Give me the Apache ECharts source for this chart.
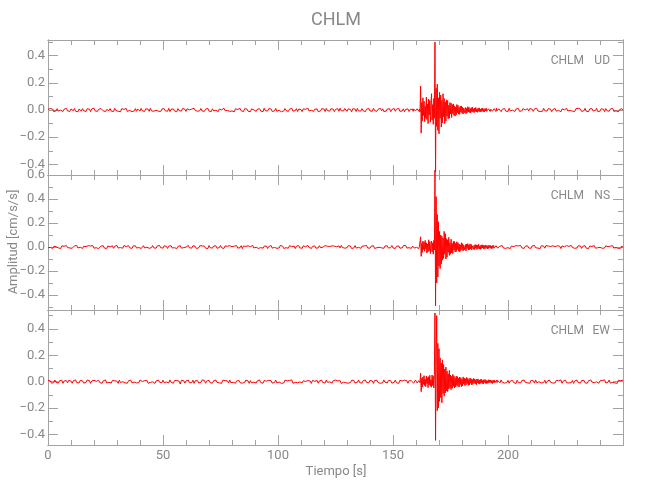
<!DOCTYPE html>
<html><head><meta charset="utf-8">
<script src="https://cdn.jsdelivr.net/npm/echarts@6/dist/echarts.min.js"></script>
<style>html,body{margin:0;padding:0;background:#fff}#c{width:650px;height:500px}</style>
</head><body><div id="c"></div>
<script>
const stationName = 'CHLM';
const componentNames = ['UD', 'NS', 'EW'];
const chartTitle = 'CHLM';
const xAxisName = 'Tiempo [s]';
const yAxisName = 'Amplitud [cm/s/s]';
const xRange = [0, 250];
const xTickLabels = [0, 50, 100, 150, 200];
const xMinorTicks = [10,20,30,40,60,70,80,90,110,120,130,140,160,170,180,190,210,220,230,240];
const yRanges = [[-0.478, 0.515], [-0.525, 0.6], [-0.48, 0.543]];
const yTickLabels = [[-0.4,-0.2,0,0.2,0.4], [-0.4,-0.2,0,0.2,0.4,0.6], [-0.4,-0.2,0,0.2,0.4]];
const yMinorTicks = [[-0.3,-0.1,0.1,0.3,0.5], [-0.5,-0.3,-0.1,0.1,0.3,0.5], [-0.3,-0.1,0.1,0.3,0.5]];

// sample times of each record segment: start (s) and sample spacing (s)
const preStart = 0, preStep = 0.5;
const eventStart = 158.5, eventStep = 0.25;
const postStart = 196.5, postStep = 0.5;

// amplitudes, in 0.001 cm/s/s
const udPre = [
4,-9,11,-3,7,-12,2,-6,10,-8,5,-1,9,-11,6,-4,12,-7,3,-10,
8,-2,-5,11,-9,4,-13,7,1,-8,10,-6,3,-11,9,-4,6,-12,8,-3,
13,-7,2,-10,5,-9,11,-1,-6,8,-12,4,7,-5,10,-8,1,-11,12,-4,
6,-9,3,-13,9,-2,5,-7,11,-10,4,-3,8,-12,2,-6,10,-9,7,-1,
-8,12,-5,3,-11,9,-4,6,-10,13,-7,1,-9,5,-2,11,-8,4,-12,7,
-3,10,-6,2,-9,12,-11,5,-1,8,-7,4,-13,10,-5,3,-8,11,-2,6,
-10,9,-4,1,-12,7,-6,13,-3,8,-9,2,-5,11,-7,4,-10,6,-1,12,
-8,3,-11,9,-6,5,-2,10,-12,7,-4,1,-9,13,-5,8,-3,11,-10,2,
-7,6,-13,9,-1,4,-8,12,-6,3,-11,10,-2,7,-9,5,-12,8,-4,1,
11,-10,6,-3,9,-7,2,-12,13,-5,4,-8,10,-1,7,-11,3,-6,12,-9,
5,-2,8,-13,1,-7,11,-4,9,-10,6,-3,12,-8,2,-5,10,-11,7,-6,
3,-12,9,-1,5,-9,13,-7,4,-2,11,-10,6,-4,8,-13,1,-6,10,-3,
7,-11,12,-5,2,-8,9,-3,6,-12,4,-1,10,-9,13,-6,3,-7,11,-2,
-10,8,-4,5,-13,9,-1,7,-11,12,-6,2,-8,10,-5,3,-12,6,-3,11,
-7,1,-9,13,-4,8,-10,5,-2,12,-6,9,-11,3,-8,7,-1,10,-12,4,
-5,11,-9,6,-3,12,-10,2,-7,9,-13,5,-1,8,-11,4,-6];
const udEvent = [
6,-10,8,-4,11,-7,3,-12,9,-5,13,-9,7,-15,175,-170,55,-80,90,-40,
65,-85,30,-60,95,-70,45,-100,80,-35,70,-90,50,120,-75,40,-105,85,-60,500,
-455,160,-120,190,-150,90,-175,130,-60,110,-125,70,-95,120,-50,85,-100,60,-80,75,
-45,70,-65,35,-60,55,-30,50,-55,40,-25,45,-40,30,-45,22,-35,40,-20,35,
-30,18,-32,28,-15,30,-25,20,-28,14,26,-22,18,-27,12,-20,24,-14,21,-18,
10,-22,17,-12,20,-16,9,-19,15,-11,18,-14,7,-17,13,-9,16,-13,6,-15,
12,-8,15,-12,5,-14,11,-6,13,-10,4,-13,9,-5,12,-11,7,-3,12,-9,
5,-12,10,-4,8,-11,13,-6,3,-10,9];
const udPost = [
9,-12,5,-3,11,-8,2,-10,13,-6,4,-1,8,-11,7,-5,12,-9,3,-7,
10,-4,1,-13,9,-6,11,-2,5,-10,8,-3,12,-7,6,-11,2,-9,13,-5,
4,-8,10,-1,7,-12,3,-6,11,-9,5,-2,9,-13,8,-4,1,-10,12,-7,
6,-3,11,-8,2,-11,9,-5,13,-1,7,-10,4,-6,12,-9,3,-12,8,-2,
10,-7,5,-4,13,-11,1,-8,9,-3,6,-12,11,-5,2,-9,7,-1,12,-10,
4,-6,8,-13,3,-7,10,-2];

const nsPre = [
-6,10,-3,8,-12,5,-9,2,11,-7,4,-13,9,-1,6,-10,12,-5,3,-8,
7,-11,1,9,-4,13,-8,5,-2,10,-12,6,-7,3,-9,11,-5,8,-1,12,
-10,4,-6,9,-13,2,7,-3,11,-9,5,-12,8,-4,1,-7,10,-11,6,-2,
13,-8,3,-5,9,-10,12,-1,4,-7,11,-6,2,-12,8,-3,10,-9,5,-4,
7,-13,1,11,-8,6,-2,9,-11,3,-5,12,-7,4,-10,8,-1,13,-6,2,
-9,10,-4,5,-12,7,-3,11,-8,1,-6,9,-13,4,-2,12,-10,6,-5,8,
-1,-11,13,-7,3,-9,10,-4,6,-12,2,-8,11,-5,9,-3,7,-10,4,-13,
12,-6,1,-9,8,-2,10,-11,5,-4,13,-7,3,-12,9,-1,6,-8,11,-5,
2,-10,7,-3,12,-9,4,-6,11,-13,8,-1,5,-11,10,-4,3,-7,13,-8,
6,-2,9,-12,1,-5,11,-10,7,-3,8,-13,4,-6,12,-9,2,-4,10,-11,
5,-8,13,-1,7,-12,3,-6,9,-10,11,-2,4,-9,8,-13,6,-3,12,-7,
1,-11,10,-5,2,-8,13,-4,7,-12,5,-1,9,-10,3,-7,11,-6,8,-2,
-13,12,-3,6,-9,4,-11,10,-1,7,-5,2,-12,9,-8,13,-4,5,-10,3,
-6,11,-2,8,-13,1,-7,12,-9,4,-3,10,-11,6,-5,9,-1,13,-8,2,
-10,7,-4,11,-12,3,-6,9,-2,13,-7,5,-11,8,-3,10,-9,1,-5,12,
-8,4,-12,6,-1,9,-10,3,-7,11,-4,13,-9,2,-6,8,-11];
const nsEvent = [
8,-6,10,-9,4,-11,7,-3,12,-8,5,-13,9,-7,85,-78,30,-45,50,-20,
40,-35,55,-15,35,-50,25,-40,60,-30,45,-55,20,50,-40,35,-60,55,-25,640,
-490,420,-300,270,-250,210,-160,130,-180,100,-140,90,-110,75,-95,130,-60,110,-100,70,
-85,60,-45,80,-70,35,-60,65,-50,30,-55,48,-25,45,-42,30,-38,44,-20,36,
-34,25,-40,18,-30,35,-22,28,-33,15,30,-26,20,-32,24,-12,28,-25,18,-22,
26,-15,22,-24,10,25,-19,14,-22,20,-9,18,-21,15,-12,22,-17,8,-19,16,
-13,19,-8,15,-18,11,-14,17,-6,13,-16,10,-12,15,-5,14,-11,9,-15,12,
-7,13,-10,5,-14,11,-4,12,-9,6,-12];
const nsPost = [
7,-3,12,-9,5,-11,2,-6,10,-13,8,-1,4,-10,11,-5,9,-2,13,-7,
3,-12,6,-4,10,-8,1,-11,9,-3,13,-6,5,-9,2,-13,11,-4,7,-10,
12,-1,8,-7,4,-12,10,-5,3,-9,11,-2,6,-13,9,-6,1,-8,12,-3,
5,-10,13,-4,7,-11,2,-8,10,-1,9,-12,6,-5,11,-9,3,-13,8,-2,
4,-7,12,-10,1,-6,9,-3,13,-11,5,-8,10,-4,2,-12,7,-1,11,-9,
6,-5,8,-12,3,-10,9,-4];

const ewPre = [
9,-4,6,-11,2,-8,12,-6,3,-10,7,-1,11,-13,5,-3,8,-9,10,-2,
4,-12,7,-5,13,-8,1,-10,9,-4,6,-11,3,-7,12,-1,8,-13,5,-6,
10,-3,2,-9,11,-7,4,-12,6,-2,13,-10,1,-5,8,-11,9,-4,7,-8,
3,-13,12,-6,5,-1,10,-9,2,-12,7,-4,11,-8,6,-3,9,-10,4,-7,
13,-2,1,-11,8,-5,10,-12,3,-6,9,-1,7,-13,5,-9,12,-4,2,-8,
11,-7,6,-3,4,-10,13,-5,1,-12,8,-2,9,-6,3,-18,10,-4,7,-11,
5,-1,12,-9,2,-7,11,-13,6,-4,8,-10,3,-5,13,-2,9,-12,4,-6,
10,-8,1,-11,7,-3,12,-6,5,-9,2,-13,11,-4,8,-1,6,-10,13,-7,
3,-5,9,-12,4,-2,10,-8,7,-11,1,-6,12,-3,5,-13,8,-9,2,-4,
11,-10,6,-1,13,-7,3,-12,9,-5,4,-8,10,-2,7,-11,1,-6,12,-9,
5,-3,8,-13,2,-10,11,-4,6,-7,9,-1,13,-12,3,-5,10,-8,4,-2,
12,-9,7,-6,1,-11,8,-3,5,-13,10,-4,2,-8,9,-12,6,-1,11,-7,
3,-10,13,-5,4,-2,9,-11,7,-6,12,-1,5,-9,8,-13,2,-4,10,-8,
6,-12,1,-7,11,-3,9,-10,4,-5,13,-8,2,-11,7,-1,12,-6,3,-9,
10,-4,5,-13,8,-2,11,-7,6,-12,1,-9,13,-3,4,-10,9,-5,7,-11,
2,-6,12,-8,3,-13,10,-1,5,-9,11,-4,7,-12,8,-2,6];
const ewEvent = [
-6,9,-11,4,-8,12,-3,7,-10,5,-13,8,-2,-9,64,-76,25,-40,35,-20,
45,-30,20,-38,42,-15,30,-45,38,-25,48,-35,15,-42,50,-30,40,-48,55,520,
-445,200,500,-220,290,-200,250,-150,180,-120,140,-160,165,-90,130,-110,95,-85,110,-70,
80,-75,60,-55,85,-45,50,-60,40,-50,55,-35,45,-48,30,-40,42,-28,38,-36,
25,-40,35,-22,30,-38,20,-32,36,-18,28,-30,22,-26,32,-15,25,-28,18,-24,
28,-12,22,-25,16,-20,24,-10,21,-18,14,-23,19,-8,20,-16,12,-19,17,-11,
18,-14,9,-17,15,-6,16,-13,11,-15,7,-12,14,-9,13,-5,12,-11,8,-14,
10,-6,13,-9,4,-12,11,-7,10,-3,12];
const ewPost = [
-9,13,-4,6,-11,2,-7,10,-12,5,-1,9,-8,3,-13,11,-6,4,-10,8,
-2,12,-5,7,-9,1,-12,10,-3,6,-11,13,-8,4,-1,9,-10,5,-7,11,
-13,3,-6,12,-4,8,-11,2,-9,10,-5,7,-1,13,-12,4,-3,11,-8,6,
-10,1,-7,9,-13,5,-2,12,-6,3,-11,8,-4,10,-9,2,-12,7,-5,13,
-3,11,-8,4,-1,10,-12,6,-7,9,-2,13,-10,5,-4,12,-11,3,-6,8,
-9,1,-13,10,-5,7,-3,11];

function buildRecord(pre, ev, post) {
  const out = [];
  pre.forEach((v, i) => out.push([preStart + i * preStep, v / 1000]));
  ev.forEach((v, i) => out.push([eventStart + i * eventStep, v / 1000]));
  post.forEach((v, i) => out.push([postStart + i * postStep, v / 1000]));
  return out;
}
const records = [buildRecord(udPre, udEvent, udPost), buildRecord(nsPre, nsEvent, nsPost), buildRecord(ewPre, ewEvent, ewPost)];

const axisCol = '#a3a3a3', textCol = '#888888';
const font = "Roboto,'Liberation Sans',sans-serif";
const fmtY = v => (v < 0 ? '\u2212' : '') + Math.abs(v).toFixed(1);

const grids = [], xAxes = [], yAxes = [], series = [];
for (let g = 0; g < 3; g++) {
  grids.push({left: 48, top: 40 + 135 * g, width: 575, height: 135});
  const xa = (pos, ticks, len, labels) => ({
    type: 'value', gridIndex: g, position: pos, min: xRange[0], max: xRange[1],
    axisLine: {show: true, onZero: false, lineStyle: {color: axisCol, width: 1}},
    axisTick: {show: true, inside: true, length: len, customValues: ticks, lineStyle: {color: axisCol, width: 1}},
    axisLabel: labels ? {show: true, customValues: labels, margin: 4, color: textCol, fontFamily: font, fontSize: 13} : {show: false},
    splitLine: {show: false}, minorTick: {show: false}
  });
  const ya = (pos, ticks, len, labels) => ({
    type: 'value', gridIndex: g, position: pos, min: yRanges[g][0], max: yRanges[g][1],
    axisLine: {show: true, onZero: false, lineStyle: {color: axisCol, width: 1}},
    axisTick: {show: true, inside: true, length: len, customValues: ticks, lineStyle: {color: axisCol, width: 1}},
    axisLabel: labels ? {show: true, customValues: labels, margin: 3, color: textCol, fontFamily: font, fontSize: 13, formatter: fmtY} : {show: false},
    splitLine: {show: false}, minorTick: {show: false}
  });
  xAxes.push(xa('bottom', xTickLabels, 10, g === 2 ? xTickLabels : null));
  xAxes.push(xa('bottom', xMinorTicks, 5, null));
  xAxes.push(xa('top', xTickLabels, 10, null));
  xAxes.push(xa('top', xMinorTicks, 5, null));
  yAxes.push(ya('left', yTickLabels[g], 10, yTickLabels[g]));
  yAxes.push(ya('left', yMinorTicks[g], 5, null));
  yAxes.push(ya('right', yTickLabels[g], 10, null));
  yAxes.push(ya('right', yMinorTicks[g], 5, null));
  series.push({
    type: 'line', name: componentNames[g], xAxisIndex: 4 * g, yAxisIndex: 4 * g,
    data: records[g], showSymbol: false, symbol: 'none', clip: false,
    lineStyle: {color: '#ff0000', width: 1}, itemStyle: {color: '#ff0000'}, z: 3
  });
}

const graphics = [
  {type: 'text', x: 336, y: 20, style: {text: chartTitle, fill: textCol, fontFamily: font, fontSize: 18, align: 'center', verticalAlign: 'middle'}},
  {type: 'text', x: 336, y: 472, style: {text: xAxisName, fill: textCol, fontFamily: font, fontSize: 13, align: 'center', verticalAlign: 'middle'}},
  {type: 'text', x: 14, y: 242, rotation: Math.PI / 2, style: {text: yAxisName, fill: textCol, fontFamily: font, fontSize: 13, align: 'center', verticalAlign: 'middle'}}
];
const labelYs = [61, 196, 331];
componentNames.forEach((c, g) => {
  graphics.push({type: 'text', x: 584, y: labelYs[g], style: {text: stationName, fill: textCol, fontFamily: font, fontSize: 12, align: 'right', verticalAlign: 'middle'}});
  graphics.push({type: 'text', x: 610, y: labelYs[g], style: {text: c, fill: textCol, fontFamily: font, fontSize: 12, align: 'right', verticalAlign: 'middle'}});
});

const chart = echarts.init(document.getElementById('c'), null, {renderer: 'canvas'});
chart.setOption({
  animation: false, backgroundColor: '#ffffff',
  grid: grids, xAxis: xAxes, yAxis: yAxes, series: series, graphic: graphics
});
</script></body></html>
